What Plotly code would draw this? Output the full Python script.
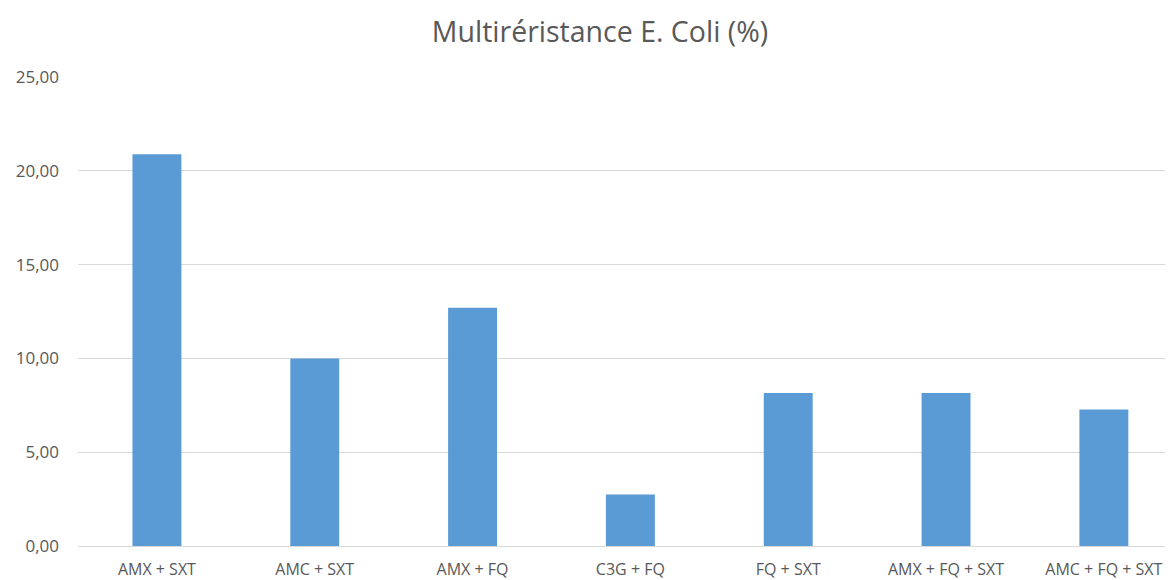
import plotly.graph_objects as go

categories = ["AMX + SXT", "AMC + SXT", "AMX + FQ", "C3G + FQ", "FQ + SXT", "AMX + FQ + SXT", "AMC + FQ + SXT"]
values = [20.88, 10.0, 12.7, 2.75, 8.15, 8.15, 7.27]
y_ticks = [0, 5, 10, 15, 20, 25]

fig = go.Figure(go.Bar(x=categories, y=values, marker=dict(color="#5B9BD5", line=dict(width=0))))

font = "Open Sans, Lato, sans-serif"
W, H = 1165, 572  # page has 8px body offset
fig.update_layout(
    width=W, height=H,
    margin=dict(l=70, r=0, t=69, b=34, autoexpand=False),
    paper_bgcolor="white", plot_bgcolor="white",
    separators=", ",
    bargap=0.69,
    showlegend=False,
    title=dict(text="Multiréristance E. Coli (%)", x=(600 - 8) / W, xanchor="center",
               y=1 - (32 - 8) / H, yanchor="middle",
               font=dict(family=font, size=28.5, color="#595959")),
    xaxis=dict(range=[-0.5, 6.438], showgrid=False, showline=False, zeroline=False, ticks="", automargin=False,
               tickfont=dict(family=font, size=16, color="#595959"), ticklabelstandoff=12),
    yaxis=dict(range=[0, 25], tickvals=y_ticks, tickformat=".2f", showgrid=True, gridcolor="#d9d9d9", gridwidth=1,
               zeroline=True, zerolinecolor="#d9d9d9", zerolinewidth=1, showline=False, ticks="", automargin=False,
               tickfont=dict(family=font, size=17, color="#595959"), ticklabelstandoff=18),
)

fig.write_html("out.html")
